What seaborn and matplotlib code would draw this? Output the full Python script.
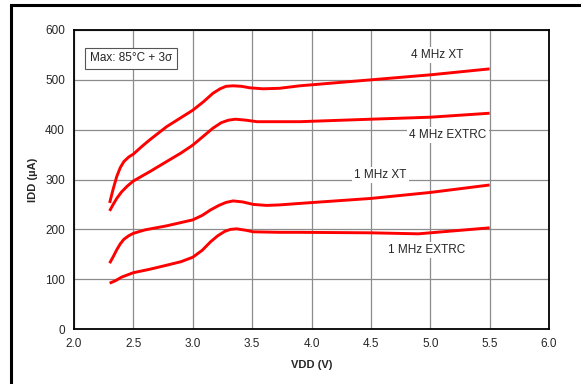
import pandas as pd
import matplotlib.pyplot as plt
import seaborn as sns
from matplotlib.patches import Rectangle

# values (VDD in V, IDD in uA)
xt4_v = [2.30, 2.33, 2.36, 2.39, 2.42, 2.46, 2.50, 2.57, 2.64, 2.78, 2.90, 3.00, 3.09, 3.17, 3.23, 3.28, 3.34, 3.41, 3.48, 3.59, 3.73, 3.90, 4.20, 4.50, 5.00, 5.50]
xt4_i = [253, 281, 306, 324, 336, 345, 351, 366, 380, 406, 424, 439, 456, 473, 482, 487, 488, 487, 484, 482, 483, 488, 494, 500, 510, 522]

rc4_v = [2.30, 2.33, 2.36, 2.40, 2.45, 2.50, 2.64, 2.78, 2.90, 3.00, 3.09, 3.17, 3.24, 3.30, 3.36, 3.45, 3.54, 3.73, 3.90, 4.50, 5.00, 5.50]
rc4_i = [237, 250, 262, 275, 287, 297, 316, 336, 353, 369, 387, 403, 414, 419, 421, 419, 416, 416, 416, 421, 425, 433]

xt1_v = [2.30, 2.33, 2.36, 2.39, 2.42, 2.46, 2.50, 2.60, 2.78, 3.00, 3.08, 3.15, 3.22, 3.28, 3.34, 3.42, 3.51, 3.62, 3.73, 3.90, 4.50, 5.00, 5.50]
xt1_i = [132, 145, 159, 171, 180, 187, 192, 199, 207, 219, 228, 239, 248, 254, 257, 255, 250, 248, 249, 252, 262, 274, 289]

rc1_v = [2.30, 2.35, 2.40, 2.50, 2.64, 2.78, 2.90, 3.00, 3.08, 3.15, 3.21, 3.27, 3.32, 3.37, 3.45, 3.51, 3.73, 3.90, 4.50, 4.90, 5.00, 5.50]
rc1_i = [92, 97, 104, 113, 120, 128, 135, 144, 158, 175, 187, 196, 200, 201, 198, 195, 194, 194, 193, 191, 193, 203]

series = ['4 MHz XT', '4 MHz EXTRC', '1 MHz XT', '1 MHz EXTRC']
label_x = [5.06, 5.15, 4.58, 4.97]
label_y = [550, 389, 309, 158]

frames = []
for name, v, i in zip(series, [xt4_v, rc4_v, xt1_v, rc1_v], [xt4_i, rc4_i, xt1_i, rc1_i]):
    frames.append(pd.DataFrame({'VDD': v, 'IDD': i, 'series': name}))
df = pd.concat(frames, ignore_index=True)

sns.set_style('white')
plt.rcParams['font.family'] = ['Liberation Sans', 'DejaVu Sans']

fig = plt.figure(figsize=(5.81, 3.84), dpi=100)
ax = fig.add_axes([74 / 581, 1 - 329 / 384, 475 / 581, 299 / 384])

sns.lineplot(data=df, x='VDD', y='IDD', hue='series', units='series', estimator=None,
             palette=['#ff0000'] * 4, linewidth=2.1, sort=False, legend=False, ax=ax)
for line in ax.lines:
    line.set_solid_joinstyle('round')
    line.set_solid_capstyle('butt')

ax.set_xlim(2.0, 6.0)
ax.set_ylim(0, 600)
ax.set_xticks([2.0, 2.5, 3.0, 3.5, 4.0, 4.5, 5.0, 5.5, 6.0])
ax.set_xticklabels(['2.0', '2.5', '3.0', '3.5', '4.0', '4.5', '5.0', '5.5', '6.0'])
ax.set_yticks(range(0, 601, 100))
ax.grid(True, color='#8c8c8c', linewidth=0.9)
ax.set_axisbelow(True)
ax.tick_params(length=0, labelsize=8.5, pad=6.5)
for s in ax.spines.values():
    s.set_color('black')
    s.set_linewidth(1.3)

ax.set_xlabel('VDD (V)', fontsize=8, fontweight='bold', labelpad=7)
ax.set_ylabel('IDD (µA)', fontsize=8, fontweight='bold', labelpad=5)

for name, tx, ty in zip(series, label_x, label_y):
    ax.text(tx, ty, name, fontsize=8.5, ha='center', va='center',
            bbox=dict(facecolor='white', edgecolor='none', pad=1.5))

ax.text(0.033, 0.905, 'Max: 85°C + 3σ', transform=ax.transAxes, fontsize=8.5,
        ha='left', va='center',
        bbox=dict(facecolor='white', edgecolor='#555555', linewidth=0.8, boxstyle='square,pad=0.4'))

# outer frame around the figure
fig.patches.append(Rectangle((11 / 581, -0.1), 1.2, 1.1 - 5 / 384, transform=fig.transFigure,
                             fill=False, edgecolor='black', linewidth=2.2, clip_on=False))

fig.savefig('out.png', dpi=100)
